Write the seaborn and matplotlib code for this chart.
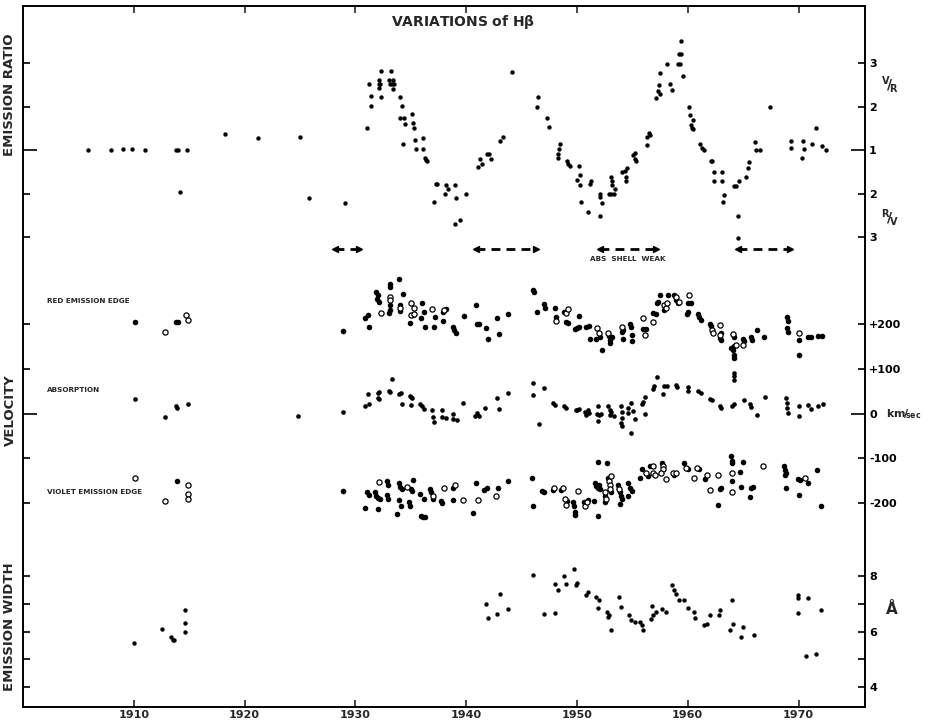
import matplotlib
matplotlib.use("Agg")
import matplotlib.pyplot as plt
import numpy as np
import pandas as pd
import seaborn as sns

sns.set_style("white")
plt.rcParams["font.family"] = ["DejaVu Sans"]
plt.rcParams["font.weight"] = "bold"

# ---- emission ratio: V/R above 1, R/V below 1 ----
vr_points = [
    (1905.9, 1.0), (1907.9, 1.0), (1909.0, 1.03), (1909.8, 1.02), (1911.0, 1.0),
    (1913.8, 1.0), (1914.0, 1.0), (1914.8, 1.0), (1918.2, 1.37), (1921.2, 1.28),
    (1925.0, 1.31),
    (1931.05, 1.51), (1931.26, 2.51), (1931.38, 2.24), (1931.4, 2.02), (1932.1, 2.61),
    (1932.1, 2.51), (1932.2, 2.51), (1932.1, 2.42), (1932.34, 2.82), (1932.28, 2.22),
    (1933.05, 2.61), (1933.23, 2.82), (1933.4, 2.61), (1933.1, 2.51), (1933.3, 2.51),
    (1933.5, 2.51), (1933.4, 2.40), (1934.06, 2.22), (1934.2, 2.02), (1934.06, 1.73),
    (1934.4, 1.73), (1934.45, 1.60), (1934.26, 1.14), (1935.14, 1.83), (1935.17, 1.63),
    (1935.25, 1.51), (1935.38, 1.22), (1936.07, 1.28), (1935.47, 1.02), (1936.1, 1.02),
    (1943.03, 1.21), (1943.3, 1.30), (1944.1, 2.79),
    (1946.47, 2.22), (1946.4, 2.0), (1947.3, 1.74), (1947.5, 1.54), (1948.5, 1.13),
    (1948.4, 1.03),
    (1956.3, 1.11), (1956.35, 1.30), (1956.5, 1.40), (1956.55, 1.35), (1957.1, 2.20),
    (1957.3, 2.36), (1957.4, 2.49), (1957.5, 2.29), (1957.5, 2.78), (1958.1, 2.97),
    (1958.4, 2.51), (1958.6, 2.37), (1959.1, 2.98), (1959.3, 2.98), (1959.2, 3.2),
    (1959.4, 3.2), (1959.35, 3.5), (1959.6, 2.69), (1960.1, 2.0), (1960.2, 1.8),
    (1960.5, 1.68), (1960.3, 1.57), (1960.35, 1.51), (1960.5, 1.49), (1961.15, 1.14),
    (1961.3, 1.05), (1961.45, 1.01),
    (1966.1, 1.19), (1966.2, 1.01), (1966.5, 1.01), (1967.4, 1.99), (1969.3, 1.21),
    (1969.3, 1.05), (1970.4, 1.21), (1970.45, 1.03), (1971.2, 1.13), (1971.6, 1.51),
    (1972.1, 1.09), (1972.5, 1.0),
]
rv_points = [
    (1914.2, 1.97), (1925.8, 2.11), (1929.06, 2.21),
    (1936.3, 1.19), (1936.4, 1.23), (1936.5, 1.26), (1937.3, 1.79), (1937.4, 1.79),
    (1937.1, 2.2), (1938.18, 1.80), (1938.4, 1.9), (1938.06, 2.02), (1939.0, 1.81),
    (1939.1, 2.11), (1940.0, 2.01), (1939.0, 2.71), (1939.4, 2.61),
    (1941.04, 1.40), (1941.26, 1.21), (1941.44, 1.31), (1941.9, 1.10), (1942.1, 1.10),
    (1942.2, 1.21),
    (1948.3, 1.08), (1948.3, 1.18), (1949.1, 1.25), (1949.2, 1.31), (1949.4, 1.37),
    (1950.2, 1.37), (1950.25, 1.58), (1950.0, 1.69), (1950.25, 1.80), (1950.4, 2.19),
    (1951.0, 2.42), (1951.2, 1.77), (1951.3, 1.71), (1952.1, 2.0), (1952.05, 2.07),
    (1952.3, 2.21), (1952.1, 2.51), (1952.9, 2.0), (1953.1, 2.0), (1953.3, 2.0),
    (1953.1, 1.61), (1953.15, 1.71), (1953.2, 1.81), (1953.4, 1.90), (1954.1, 1.51),
    (1954.3, 1.48), (1954.5, 1.41), (1954.4, 1.61), (1954.4, 1.71), (1955.1, 1.11),
    (1955.25, 1.07), (1955.2, 1.21), (1955.35, 1.25),
    (1962.1, 1.25), (1962.2, 1.25), (1962.35, 1.51), (1962.35, 1.71), (1963.1, 1.51),
    (1963.1, 1.71), (1963.3, 2.03), (1963.2, 2.2), (1964.2, 1.83), (1964.4, 1.83),
    (1964.6, 1.71), (1964.5, 2.52), (1964.5, 3.03), (1965.3, 1.61), (1965.4, 1.42),
    (1965.5, 1.27), (1970.3, 1.18),
]

# periods marked with dashed arrows (R/V level of the arrows)
arrow_start = [1928.2, 1940.9, 1952.1, 1964.5]
arrow_end = [1930.3, 1946.3, 1957.1, 1969.2]
arrow_rv = 3.28

# ---- velocities, km/sec ----
red_filled = [
    (1910.1, 205), (1913.8, 205), (1914.0, 205),
    (1928.85, 184), (1930.9, 214), (1931.1, 220), (1931.2, 194), (1931.9, 272),
    (1932.0, 265), (1931.95, 255), (1932.1, 250), (1933.0, 224), (1933.1, 231),
    (1933.15, 242), (1933.1, 290), (1933.15, 283), (1933.9, 301), (1934.3, 268),
    (1934.0, 242), (1934.05, 230), (1935.2, 220), (1934.9, 203), (1936.0, 247),
    (1936.2, 227), (1935.9, 213), (1936.3, 194), (1937.2, 215), (1937.1, 194),
    (1937.9, 227), (1938.2, 233), (1937.9, 207), (1938.8, 194), (1938.9, 187),
    (1939.1, 181), (1939.8, 218), (1940.9, 242), (1940.95, 200), (1941.2, 200),
    (1941.8, 192), (1942.0, 167), (1942.8, 213), (1943.0, 178), (1943.8, 222),
    (1946.0, 277), (1946.1, 272), (1946.4, 226), (1947.0, 244), (1947.1, 236),
    (1948.0, 236), (1948.1, 216), (1948.85, 227), (1949.0, 205), (1949.15, 203),
    (1950.2, 218), (1949.8, 188), (1950.0, 190), (1950.2, 193), (1950.8, 194),
    (1951.1, 196), (1951.2, 167), (1952.1, 172), (1951.7, 167), (1952.25, 141),
    (1952.9, 173), (1953.0, 164), (1952.95, 157), (1953.2, 170), (1954.2, 187),
    (1954.05, 183), (1954.2, 167), (1954.8, 201), (1954.9, 194), (1955.0, 176),
    (1955.0, 161), (1956.0, 189), (1956.2, 189), (1956.9, 225), (1957.1, 222),
    (1957.2, 246), (1957.3, 250), (1957.5, 264), (1957.85, 231), (1958.2, 264),
    (1958.8, 264), (1958.95, 253), (1959.1, 246), (1960.05, 246), (1960.3, 246),
    (1959.95, 222), (1960.05, 227), (1960.9, 222), (1961.0, 215), (1961.2, 209),
    (1962.0, 201), (1962.1, 196), (1963.0, 181), (1963.0, 164), (1962.95, 168),
    (1964.2, 172), (1964.2, 151), (1963.95, 146), (1964.1, 142), (1964.2, 131),
    (1964.2, 124), (1965.0, 167), (1965.1, 161), (1965.7, 170), (1965.8, 164),
    (1966.25, 187), (1966.9, 170), (1969.0, 215), (1969.05, 207), (1969.0, 190),
    (1969.05, 183), (1970.0, 164), (1970.0, 130), (1970.85, 172), (1971.1, 172),
    (1971.8, 173), (1972.15, 173),
]
red_open = [
    (1912.8, 183), (1914.75, 221), (1914.85, 210),
    (1932.3, 224), (1933.1, 261), (1933.1, 253), (1934.05, 235), (1935.0, 246),
    (1935.3, 235), (1935.0, 220), (1935.3, 222), (1936.9, 233), (1938.0, 231),
    (1948.1, 207), (1949.0, 224), (1949.15, 233), (1951.8, 190), (1952.0, 179),
    (1952.8, 181), (1954.1, 193), (1955.95, 213), (1956.1, 176), (1956.85, 205),
    (1957.9, 242), (1958.0, 236), (1958.1, 247), (1958.9, 261), (1959.25, 250),
    (1960.1, 264), (1962.2, 187), (1962.3, 181), (1962.9, 198), (1962.9, 176),
    (1964.1, 178), (1964.35, 153), (1965.0, 153), (1970.0, 179),
]
absorption = [
    (1910.1, 33), (1912.8, -7), (1913.8, 16), (1913.9, 13), (1914.85, 22),
    (1924.8, -6), (1928.9, 4), (1930.9, 18), (1931.25, 22), (1931.1, 44),
    (1932.0, 47), (1932.1, 48), (1932.0, 35), (1932.1, 33), (1933.0, 50),
    (1933.1, 48), (1933.3, 77), (1933.9, 44), (1934.1, 47), (1934.2, 22),
    (1934.9, 40), (1935.0, 38), (1935.1, 34), (1935.0, 19), (1935.8, 22),
    (1936.0, 16), (1936.2, 11), (1936.9, 7), (1937.0, -7), (1937.1, -18),
    (1937.8, 7), (1937.85, -7), (1938.2, -10), (1938.8, 0), (1938.8, -12),
    (1939.2, -15), (1939.75, 24), (1940.8, -6), (1941.0, 2), (1941.2, -6),
    (1941.7, 12), (1942.8, 34), (1943.0, 10), (1943.8, 47),
    (1946.0, 68), (1946.0, 42), (1947.0, 58), (1946.6, -24), (1947.8, 24),
    (1948.0, 20), (1948.8, 18), (1949.0, 13), (1949.9, 7), (1950.0, 9),
    (1950.2, 11), (1950.75, 3), (1950.8, -2), (1951.0, 7), (1951.1, 2),
    (1951.9, 16), (1951.8, 0), (1952.0, -2), (1952.2, 0), (1951.9, -17),
    (1952.8, 16), (1953.0, 9), (1953.1, 3), (1953.0, -2), (1953.3, -6),
    (1954.0, 16), (1954.1, 3), (1954.1, -9), (1954.0, -21), (1954.1, -28),
    (1954.6, 2), (1954.6, 13), (1954.9, 24), (1955.05, 5), (1955.2, -13),
    (1954.9, -44), (1955.9, 22), (1956.0, 27), (1956.1, 38), (1956.1, 0),
    (1956.85, 55), (1957.0, 61), (1957.25, 81), (1957.8, 44), (1957.85, 61),
    (1958.1, 62), (1958.9, 64), (1959.05, 59), (1960.0, 59), (1960.05, 50),
    (1960.9, 50), (1961.2, 46), (1962.0, 33), (1962.2, 30), (1962.9, 18),
    (1963.0, 13), (1964.0, 18), (1964.2, 22), (1964.2, 90), (1964.2, 83),
    (1964.2, 75), (1965.1, 31), (1965.65, 22), (1965.7, 14), (1966.25, -2),
    (1967.0, 38), (1968.9, 35), (1969.0, 24), (1969.0, 13), (1969.05, 2),
    (1970.0, 18), (1970.0, -6), (1970.85, 19), (1971.1, 10), (1971.75, 18),
    (1972.2, 22),
]
violet_filled = [
    (1913.9, -150),
    (1928.85, -173), (1930.9, -210), (1931.05, -176), (1931.2, -182), (1931.8, -176),
    (1931.9, -184), (1932.0, -188), (1932.2, -190), (1932.0, -212), (1932.9, -150),
    (1932.95, -160), (1932.9, -182), (1932.95, -190), (1933.9, -156), (1934.05, -164),
    (1934.2, -169), (1933.9, -193), (1933.8, -225), (1934.1, -207), (1935.0, -169),
    (1935.1, -172), (1935.2, -149), (1934.85, -198), (1934.9, -206), (1935.8, -180),
    (1936.2, -191), (1935.9, -228), (1936.1, -230), (1936.3, -230), (1936.7, -169),
    (1936.85, -176), (1937.0, -191), (1937.7, -195), (1937.8, -200), (1938.8, -166),
    (1938.85, -193), (1940.65, -221), (1940.9, -154), (1941.65, -171), (1941.85, -167),
    (1942.9, -167), (1943.75, -150),
    (1945.9, -144), (1946.0, -206), (1946.85, -173), (1947.0, -176), (1947.8, -170),
    (1948.6, -170), (1949.1, -195), (1949.6, -197), (1949.7, -207), (1949.8, -219),
    (1949.8, -227), (1950.6, -198), (1951.0, -193), (1951.5, -195), (1951.9, -228),
    (1951.9, -108), (1952.7, -111), (1951.6, -156), (1951.7, -162), (1952.0, -160),
    (1952.1, -169), (1951.9, -167), (1952.55, -184), (1952.5, -197), (1952.8, -143),
    (1953.1, -176), (1953.75, -160), (1953.9, -176), (1953.85, -202), (1954.0, -185),
    (1954.1, -191), (1954.6, -185), (1954.65, -154), (1954.8, -165), (1955.0, -173),
    (1955.7, -143), (1955.9, -123), (1956.4, -139), (1956.6, -117), (1957.65, -111),
    (1958.8, -136), (1959.7, -111), (1960.0, -124), (1961.0, -124), (1961.6, -147),
    (1962.7, -204), (1962.9, -169), (1963.0, -167), (1963.9, -95), (1964.0, -106),
    (1964.0, -111), (1965.0, -107), (1964.0, -150), (1964.7, -130), (1964.8, -163),
    (1965.6, -187), (1965.7, -167), (1965.9, -163), (1968.7, -117), (1968.8, -126),
    (1968.9, -132), (1968.8, -138), (1968.9, -165), (1969.95, -147), (1970.1, -148),
    (1970.9, -154), (1970.0, -182), (1971.7, -126), (1972.0, -206),
]
violet_open = [
    (1910.1, -143), (1912.8, -195), (1914.9, -160), (1914.9, -180), (1914.9, -191),
    (1932.1, -153), (1934.7, -164), (1937.0, -185), (1938.0, -167), (1939.0, -160),
    (1939.7, -193), (1941.1, -193), (1942.7, -185),
    (1947.95, -167), (1948.7, -167), (1948.9, -190), (1949.0, -204), (1950.1, -173),
    (1950.7, -207), (1950.9, -197), (1952.5, -176), (1952.6, -191), (1952.85, -150),
    (1952.95, -160), (1953.0, -169), (1953.1, -139), (1953.8, -169), (1956.25, -132),
    (1956.85, -116), (1956.9, -132), (1957.05, -138), (1957.8, -116), (1957.8, -123),
    (1957.6, -133), (1958.0, -147), (1958.65, -132), (1958.95, -132), (1959.8, -121),
    (1960.55, -144), (1960.8, -121), (1961.7, -138), (1962.0, -170), (1962.7, -138),
    (1964.0, -132), (1964.0, -175), (1966.8, -118), (1970.6, -143),
]

# ---- emission width, angstrom ----
width_points = [
    (1910.0, 5.59), (1912.56, 6.08), (1913.4, 5.79), (1913.6, 5.71), (1913.5, 5.68),
    (1914.6, 6.78), (1914.6, 6.30), (1914.6, 6.0),
    (1941.75, 7.0), (1942.0, 6.48), (1943.1, 7.36), (1942.8, 6.64), (1943.8, 6.81),
    (1946.0, 8.03), (1947.0, 6.64), (1948.05, 6.67), (1948.0, 7.72), (1949.0, 7.70),
    (1948.3, 7.48), (1948.8, 8.0), (1949.7, 8.25), (1949.9, 7.66), (1950.0, 7.74),
    (1950.8, 7.30), (1951.0, 7.42), (1951.7, 7.24), (1952.0, 7.12), (1951.9, 6.84),
    (1952.7, 6.70), (1952.9, 6.58), (1952.8, 6.52), (1953.1, 6.06), (1953.8, 7.26),
    (1954.0, 6.88), (1954.7, 6.58), (1954.9, 6.40), (1955.2, 6.36), (1955.7, 6.34),
    (1955.9, 6.22), (1956.0, 6.06), (1956.7, 6.46), (1956.9, 6.58), (1957.1, 6.70),
    (1956.8, 6.93), (1957.7, 6.82), (1958.0, 6.70), (1958.6, 7.66), (1958.8, 7.48),
    (1958.9, 7.36), (1959.2, 7.12), (1959.7, 7.12), (1960.0, 6.86), (1960.6, 6.70),
    (1960.7, 6.49), (1961.5, 6.22), (1961.7, 6.28), (1962.0, 6.58), (1962.8, 6.58),
    (1962.9, 6.76), (1964.0, 7.12), (1964.1, 6.28), (1963.85, 6.06), (1965.0, 6.18),
    (1964.8, 5.79), (1966.0, 5.88), (1969.95, 7.30), (1969.95, 7.22), (1969.95, 6.66),
    (1970.9, 7.2), (1970.7, 5.10), (1971.6, 5.19), (1972.05, 6.76),
]

ratio_df = pd.DataFrame(
    [(y, r) for y, r in vr_points] + [(y, 1.0 / r) for y, r in rv_points],
    columns=["year", "vr"],
)


def ratio_fwd(r):
    r = np.asarray(r, dtype=float)
    return np.where(r >= 1, r - 1, 1 - 1 / np.maximum(r, 1e-9))


def ratio_inv(s):
    s = np.asarray(s, dtype=float)
    return np.where(s >= 0, s + 1, 1 / (1 - np.minimum(s, 0)))


fig = plt.figure(figsize=(9.31, 7.24), dpi=100)
ax_r = fig.add_axes([0.0247, 0.6298, 0.9044, 0.3619])
ax_v = fig.add_axes([0.0247, 0.2431, 0.9044, 0.3867], sharex=ax_r)
ax_w = fig.add_axes([0.0247, 0.0235, 0.9044, 0.2196], sharex=ax_r)

ax_r.set_yscale("function", functions=(ratio_fwd, ratio_inv))

sns.scatterplot(data=ratio_df, x="year", y="vr", ax=ax_r, color="black", s=10, linewidth=0)

for start, end in zip(arrow_start, arrow_end):
    lvl = 1.0 / arrow_rv
    ax_r.plot([start, end], [lvl, lvl], color="black", lw=2.0, dashes=(3.2, 2.2), solid_capstyle="butt")
    ax_r.plot([start], [lvl], marker="<", ms=4.5, color="black")
    ax_r.plot([end], [lvl], marker=">", ms=4.5, color="black")
ax_r.text(1954.6, 1 / 3.50, "ABS  SHELL  WEAK", fontsize=5.2, ha="center", va="center", weight="bold")

vel_sets = [(red_filled, False, 16), (red_open, True, 14), (absorption, False, 11),
            (violet_filled, False, 16), (violet_open, True, 14)]
for pts, is_open, size in vel_sets:
    df = pd.DataFrame(pts, columns=["year", "v"])
    if is_open:
        sns.scatterplot(data=df, x="year", y="v", ax=ax_v, color="white", edgecolor="black",
                        linewidth=0.9, s=size)
    else:
        sns.scatterplot(data=df, x="year", y="v", ax=ax_v, color="black", linewidth=0, s=size)

ax_v.text(1902.2, 251, "RED EMISSION EDGE", fontsize=5.2, va="center", weight="bold")
ax_v.text(1902.2, 52, "ABSORPTION", fontsize=5.2, va="center", weight="bold")
ax_v.text(1902.2, -175, "VIOLET EMISSION EDGE", fontsize=5.2, va="center", weight="bold")

width_df = pd.DataFrame(width_points, columns=["year", "w"])
sns.scatterplot(data=width_df, x="year", y="w", ax=ax_w, color="black", s=10, linewidth=0)

# axes limits
ax_r.set_xlim(1900, 1976)
ax_r.set_ylim(0.2694, 4.31)
ax_v.set_ylim(-300, 325)
ax_w.set_ylim(3.28, 9.01)

ax_r.set_xticks(np.arange(1910, 1971, 10))
ax_w.set_xticklabels([str(y) for y in range(1910, 1971, 10)])

for ax in (ax_r, ax_v, ax_w):
    ax.set_xlabel("")
    ax.set_ylabel("")
    for sp in ax.spines.values():
        sp.set_color("black")
        sp.set_linewidth(1.4)
    ax.tick_params(axis="y", which="both", direction="in", left=True, right=True,
                   labelleft=False, labelright=True, labelsize=8, pad=3, width=1.2, colors="black")
    ax.tick_params(axis="y", which="major", length=5)
    ax.tick_params(axis="y", which="minor", length=10)

ax_r.spines["bottom"].set_visible(False)
ax_v.spines["top"].set_visible(False)
ax_v.spines["bottom"].set_visible(False)
ax_w.spines["top"].set_visible(False)

ax_r.tick_params(axis="x", bottom=False, top=True, labelbottom=False, direction="in", length=5, width=1.2)
ax_v.tick_params(axis="x", bottom=False, top=False, labelbottom=False)
ax_w.tick_params(axis="x", bottom=True, top=False, labelbottom=True, direction="in",
                 length=5, width=1.2, labelsize=8, pad=2)

ax_r.set_yticks([3, 2, 0.5, 1 / 3])
ax_r.set_yticklabels(["3", "2", "2", "3"])
ax_r.set_yticks([1], minor=True)
ax_r.set_yticklabels(["1"], minor=True)

ax_v.set_yticks([200, 100, -100, -200])
ax_v.set_yticklabels(["+200", "+100", "-100", "-200"])
ax_v.set_yticks([0], minor=True)
ax_v.set_yticklabels(["0"], minor=True)

ax_w.set_yticks([8, 7, 6, 5, 4])
ax_w.set_yticklabels(["8", "", "6", "", "4"])
ax_w.set_yticks([], minor=True)

fig.text(0.497, 0.9696, r"VARIATIONS of H$\mathbf{\beta}$", fontsize=10, ha="center", va="center", weight="bold")
fig.text(0.0107, 0.869, "EMISSION RATIO", rotation=90, fontsize=9.5, ha="center", va="center", weight="bold")
fig.text(0.0107, 0.434, "VELOCITY", rotation=90, fontsize=9.5, ha="center", va="center", weight="bold")
fig.text(0.0107, 0.135, "EMISSION WIDTH", rotation=90, fontsize=9.5, ha="center", va="center", weight="bold")
fig.text(0.956, 0.8826, r"$^{\mathbf{V}}\!/\!_{\mathbf{R}}$", fontsize=10, ha="center", va="center")
fig.text(0.956, 0.700, r"$^{\mathbf{R}}\!/\!_{\mathbf{V}}$", fontsize=10, ha="center", va="center")
fig.text(0.952, 0.4286, r"km$\!/\!_{\mathbf{sec}}$", fontsize=8, ha="left", va="center", weight="bold")
fig.text(0.958, 0.1575, "Å", fontsize=11, ha="center", va="center", weight="bold")

fig.savefig("out.png", dpi=100)
